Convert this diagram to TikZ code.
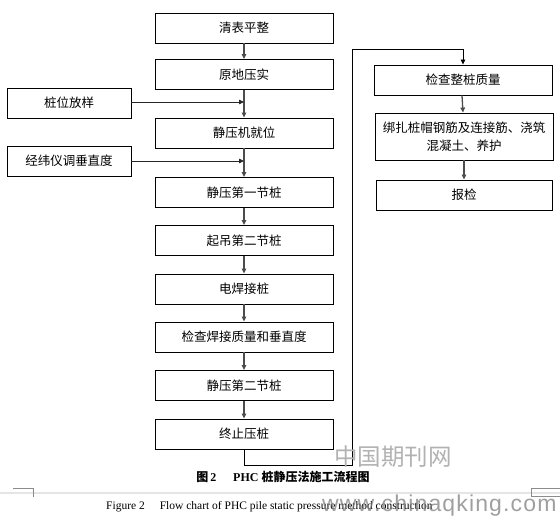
\documentclass[tikz,border=0pt]{standalone}
\usepackage{fontspec}
\setmainfont{Liberation Serif}
\newfontfamily\cjk{Noto Sans CJK SC}
\newfontfamily\wmfont[LetterSpace=5]{Liberation Sans}
\usetikzlibrary{arrows.meta}
\begin{document}
\begin{tikzpicture}[x=1pt,y=-1pt,
  box/.style={draw=black, line width=0.9pt, minimum width=178pt, minimum height=30pt,
    inner sep=0pt, align=center, font=\cjk\fontsize{12.5}{18}\selectfont},
  sidebox/.style={box, minimum width=124pt},
  vflow/.style={draw=black!70, line width=1.3pt, -{Triangle[length=5pt,width=4.5pt]}},
  hflow/.style={draw=black!85, line width=0.8pt, -{Triangle[length=5pt,width=4.5pt]}},
  loopline/.style={draw=black, line width=0.8pt, -{Triangle[length=5pt,width=4.5pt]}},
  artifact/.style={draw=black!45, line width=0.5pt}]
\useasboundingbox (0,0) rectangle (560,517);
\fill[white] (0,0) rectangle (560,517);

% main column
\node[box] (m1) at (244,28) {清表平整};
\node[box] (m2) at (244,74.5) {原地压实};
\node[box] (m3) at (244,133) {静压机就位};
\node[box] (m4) at (244,192.5) {静压第一节桩};
\node[box] (m5) at (244,240.5) {起吊第二节桩};
\node[box] (m6) at (244,289) {电焊接桩};
\node[box] (m7) at (244,337) {检查焊接质量和垂直度};
\node[box] (m8) at (244,385.5) {静压第二节桩};
\node[box] (m9) at (244,434) {终止压桩};

% side boxes
\node[sidebox] (s1) at (69,103) {桩位放样};
\node[sidebox] (s2) at (69,161) {经纬仪调垂直度};

% right column
\node[box] (r1) at (463,80) {检查整桩质量};
\node[box, minimum height=47pt] (r2) at (464,136.5) {绑扎桩帽钢筋及连接筋、浇筑\\混凝土、养护};
\node[box, minimum width=176pt] (r3) at (464,195) {报检};

% connectors main column
\draw[vflow] (m1) -- (m2);
\draw[vflow] (m2) -- (m3);
\draw[vflow] (m3) -- (m4);
\draw[vflow] (m4) -- (m5);
\draw[vflow] (m5) -- (m6);
\draw[vflow] (m6) -- (m7);
\draw[vflow] (m7) -- (m8);
\draw[vflow] (m8) -- (m9);

% side inputs
\coordinate (j1) at (244,102);
\coordinate (j2) at (244,161);
\draw[hflow] (s1.east |- j1) -- (j1);
\draw[hflow] (s2.east |- j2) -- (j2);

% loop to right column
\coordinate (lb) at (244,465);
\coordinate (lt) at (352,49);
\draw[loopline] (m9.south) -- (lb) -| (lt) -| (r1.north);

% right column connectors
\draw[vflow] ([xshift=-1pt]r1.south) -- ([xshift=-1pt]r2.north);
\draw[vflow] (r2) -- (r3);

% watermark (Chinese)
\node[text=black!30, font=\cjk\fontsize{23.5}{24}\selectfont, inner sep=0pt] (wm1) at (393,457) {中国期刊网};

% captions
\node[inner sep=0pt, font=\fontsize{12}{14}\selectfont] (cap1) at (283,477)
  {{\cjk\bfseries 图}\,\textbf{2}\hspace{1.4em}\textbf{PHC} {\cjk\bfseries 桩静压法施工流程图}};

% page artifacts
\draw[draw=black!10, line width=2pt] (0,492.5) -- (560,492.5);
\draw[artifact] (13,488) -- (33,488) -- (33,497);
\draw[artifact] (560,488) -- (531,488) -- (531,496) -- (560,496);

\node[anchor=west, inner sep=0pt, font=\fontsize{11.5}{14}\selectfont] (cap2) at (106,507)
  {Figure 2\hspace{1.3em}Flow chart of PHC pile static pressure method construction};

% watermark (web)
\node[anchor=west, inner sep=0pt, text=black!50, opacity=0.75, font=\wmfont\fontsize{23}{23}\selectfont] (wm2) at (322,506) {www.chinaqking.com};
\end{tikzpicture}
\end{document}
